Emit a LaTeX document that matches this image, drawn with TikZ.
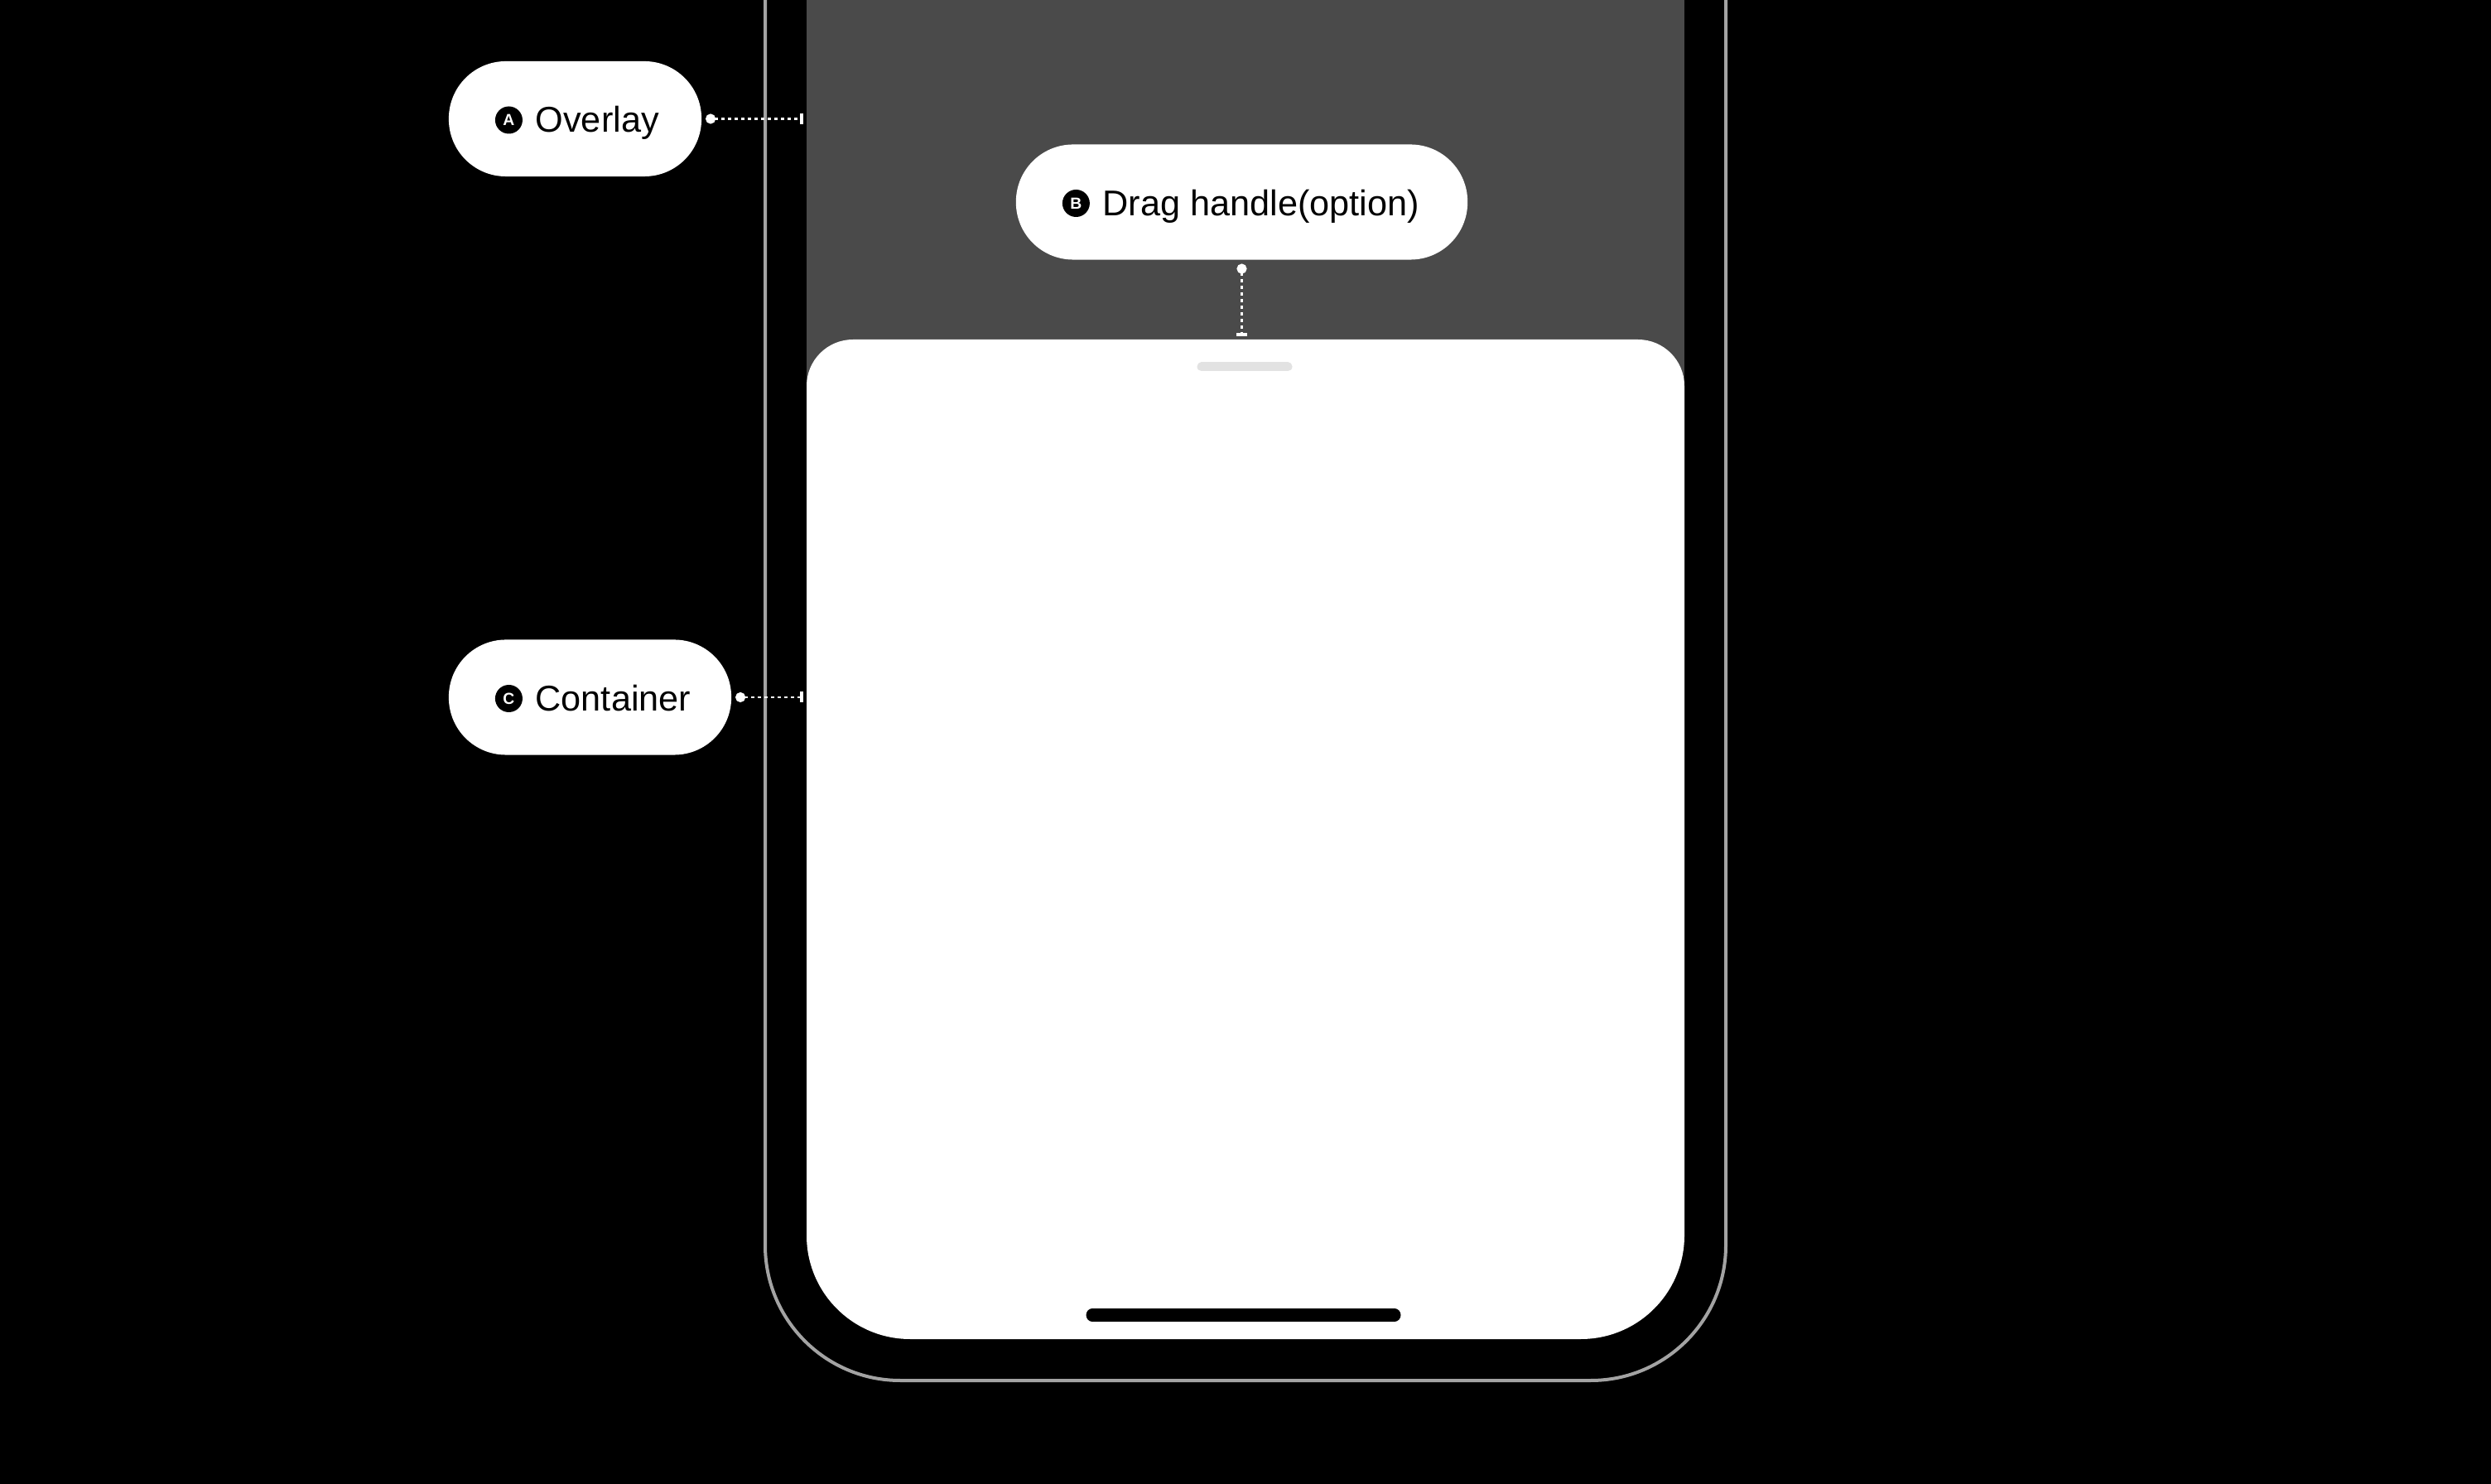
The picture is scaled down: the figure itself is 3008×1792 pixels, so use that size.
\documentclass[tikz,border=0pt]{standalone}
\usepackage{fontspec}
\setmainfont{Liberation Sans}
\usetikzlibrary{positioning,arrows.meta}
\definecolor{overlaygray}{HTML}{4A4A4A}
\definecolor{framegray}{HTML}{A3A3A3}
\definecolor{handlegray}{HTML}{E2E2E2}
\begin{document}
\begin{tikzpicture}[x=0.01cm,y=-0.01cm,
	pill/.style={fill=white,rounded corners=0.69cm,minimum height=1.39cm,outer sep=0.05cm,inner sep=0pt},
	badge/.style={circle,fill=black,text=white,minimum size=0.33cm,inner sep=0pt,outer sep=0pt,yshift=-0.015cm,font=\bfseries\fontsize{5.5}{6}\selectfont},
	labeltext/.style={inner sep=0pt,text height=0.72em,text depth=0pt,yshift=-0.02cm,font=\fontsize{12.3}{14}\selectfont},
	leader/.style={white,line width=0.027cm,dash pattern=on 0.04cm off 0.04cm,{Circle[length=0.12cm]}-{Bar[width=0.13cm,line width=0.04cm]}}]
	% Background
	\fill[black] (0,0) rectangle (3008,1792);
	\useasboundingbox (0,0) rectangle (3008,1792);

	% Phone frame
	\draw[framegray,line width=0.04cm,rounded corners=1.63cm]
		(924,-30) -- (924,1667) -- (2084,1667) -- (2084,-30);

	% Overlay
	\fill[overlaygray] (974,-10) rectangle (2034,520);

	% Sheet
	\fill[white] (974,1000) [rounded corners=0.56cm] -- (974,410) -- (2034,410) -- (2034,1000)
		[rounded corners=1.25cm] -- (2034,1617) -- (974,1617) -- cycle;
	\draw[handlegray,line width=0.11cm,line cap=round] (1451,443) -- (1555,443);
	\draw[black,line width=0.15cm,line cap=round] (1319,1588) -- (1684,1588);

	% Labels
	\node[pill,minimum width=3.05cm] (lblA) at (694.5,143.5) {};
	\node[badge,right=0.61cm of lblA.west] (badgeA) {A};
	\node[labeltext,right=0.15cm of badgeA] (textA) {Overlay};

	\node[pill,minimum width=5.45cm] (lblB) at (1499.5,244) {};
	\node[badge,right=0.61cm of lblB.west] (badgeB) {B};
	\node[labeltext,right=0.15cm of badgeB] (textB) {Drag handle(option)};

	\node[pill,minimum width=3.41cm] (lblC) at (712.5,842) {};
	\node[badge,right=0.61cm of lblC.west] (badgeC) {C};
	\node[labeltext,right=0.15cm of badgeC] (textC) {Container};

	% Leaders
	\coordinate (tipA) at (970,143.5);
	\coordinate (tipB) at (1499.5,406);
	\coordinate (tipC) at (970,842);
	\draw[leader] (lblA) -- (tipA);
	\draw[leader] (lblB) -- (tipB);
	\draw[leader] (lblC) -- (tipC);

\end{tikzpicture}
\end{document}
